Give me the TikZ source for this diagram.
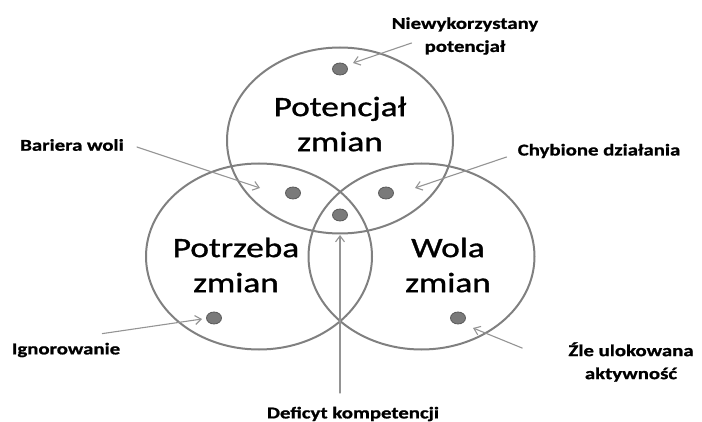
\documentclass[tikz,border=0pt]{standalone}
\usepackage{fontspec}
\setmainfont{Carlito}[FakeStretch=1.26]
\newfontfamily\titlefont{Carlito}[FakeStretch=1.26, FakeBold=1.2]
\newfontfamily\tagfont{Carlito}[FakeStretch=1.26, FakeBold=1, UprightFont=*-Bold]
\usetikzlibrary{arrows.meta}

\begin{document}
\begin{tikzpicture}[x=1pt, y=-1pt, >={Straight Barb[length=6pt,width=9pt]}, line cap=round,
  set/.style={draw=black!50, line width=2pt},
  spot/.style={draw=black!65, fill=black!52, line width=0.8pt},
  pointer/.style={->, draw=black!42, line width=1.1pt},
  tag/.style={font=\tagfont\fontsize{16.5}{23}\selectfont, align=center, inner sep=1pt},
  title/.style={font=\titlefont\fontsize{28}{35}\selectfont, align=center, inner sep=0pt}]
  \useasboundingbox (0,0) rectangle (702,422);
  % the three sets
  \draw[set] (340,140.5) ellipse (113 and 93);
  \draw[set] (259,256.5) ellipse (113 and 93);
  \draw[set] (421.5,256.5) ellipse (113 and 93);
  % set names
  \node[title] (potencjal) at (340,124) {Potencjał\\zmian};
  \node[title] (potrzeba) at (236,265) {Potrzeba\\zmian};
  \node[title] (wola) at (448,265) {Wola\\zmian};
  % spots in the regions
  \foreach \name/\x/\y in {dN/340/69, dB/293/193, dC/386/193, dD/340/215, dI/214/318, dZ/458/318}
    \draw[spot] (\x,\y) ellipse (7.5 and 6) coordinate (\name) at (\x,\y) {};
  % arrow tips
  \coordinate (tipN) at (353,63);
  \coordinate (tipB) at (260,188);
  \coordinate (tipC) at (415,188);
  \coordinate (tipI) at (202,319);
  \coordinate (tipZ) at (473,328);
  \coordinate (tipD) at (340,235);
  % labels
  \node[tag] (niew) at (465,36) {Niewykorzystany\\potencjał};
  \node[tag] (bariera) at (72,145) {Bariera woli};
  \node[tag] (chyb) at (599,151) {Chybione działania};
  \node[tag] (ignor) at (66,350) {Ignorowanie};
  \node[tag] (zle) at (631,362) {Źle ulokowana\\aktywność};
  \node[tag] (defi) at (353,414) {Deficyt kompetencji};
  % pointers
  \draw[pointer] ([xshift=21pt,yshift=-7pt]niew.west) -- (tipN);
  \draw[pointer] ([xshift=12pt,yshift=-2pt]bariera.east) -- (tipB);
  \draw[pointer] ([xshift=-10pt,yshift=-6pt]chyb.west) -- (tipC);
  \draw[pointer] ([xshift=-19pt,yshift=8pt]ignor.north east) -- (tipI);
  \draw[pointer] ([xshift=-45pt,yshift=-7pt]zle.north west) -- (tipZ);
  \draw[pointer] (340,393) -- (tipD);
\end{tikzpicture}
\end{document}
